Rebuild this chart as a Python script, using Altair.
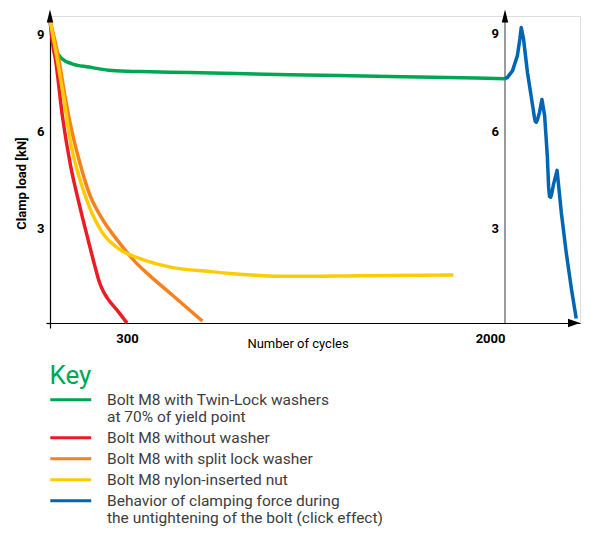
import altair as alt
import pandas as pd

# ---------------- data ----------------
SERIES = [
    "Bolt M8 with Twin-Lock washers\nat 70% of yield point",
    "Bolt M8 without washer",
    "Bolt M8 with split lock washer",
    "Bolt M8 nylon-inserted nut",
    "Behavior of clamping force during\nthe untightening of the bolt (click effect)",
]
COLORS = ["#00A651", "#ED1C24", "#F5821F", "#FFCB05", "#0066B3"]

green_x = [0, 9, 21, 48, 86, 151, 242, 361, 581, 1030, 1479, 2000]
green_y = [9.35, 8.87, 8.46, 8.15, 8.0, 7.9, 7.79, 7.76, 7.73, 7.66, 7.61, 7.54]

red_x = [0, 11, 21, 48, 80, 112, 151, 173, 193, 208, 224, 259, 300]
red_y = [9.35, 8.57, 8.15, 6.4, 4.86, 3.73, 2.49, 1.81, 1.25, 0.97, 0.76, 0.42, 0.0]

orange_x = [0, 34, 60, 86, 112, 151, 203, 269, 338, 401, 506, 639]
orange_y = [9.35, 8.15, 6.92, 5.89, 5.07, 4.04, 3.22, 2.49, 1.88, 1.47, 0.85, 0.06]

yellow_x = [0, 28, 54, 80, 112, 151, 203, 268, 353, 506, 671, 762, 1050, 1352, 1768]
yellow_y = [9.35, 8.15, 6.92, 5.58, 4.55, 3.63, 2.8, 2.29, 2.0, 1.71, 1.59, 1.53, 1.44, 1.46, 1.48]

blue_x = [2000, 2011, 2034, 2056, 2067, 2073, 2083, 2101, 2124, 2132, 2136, 2141, 2146,
          2155, 2166, 2178, 2190, 2196, 2200, 2205, 2209, 2218, 2234, 2241, 2253, 2275,
          2298, 2320]
blue_y = [7.54, 7.58, 7.79, 8.26, 8.78, 9.12, 8.78, 7.73, 6.71, 6.35, 6.22, 6.2, 6.28,
          6.5, 6.9, 6.4, 5.17, 4.2, 3.91, 3.88, 3.96, 4.28, 4.71, 4.24, 3.41, 2.18,
          1.07, 0.14]

X_DOMAIN = [0, 300, 2000, 2337]
X_RANGE = [0, 77, 455, 530]
Y_MAX = 9.475
X_TICKS = [0, 300, 2000]
Y_TICKS = [0, 3, 6, 9]
SECOND_AXIS_LABELS = [3, 6, 9]

# ---------------- frames ----------------
rows = []
for name, xs, ys in [(SERIES[0], green_x, green_y), (SERIES[1], red_x, red_y),
                     (SERIES[2], orange_x, orange_y), (SERIES[3], yellow_x, yellow_y)]:
    for i, (a, b) in enumerate(zip(xs, ys)):
        rows.append({"series": name, "x": a, "y": b, "i": i})
smooth_df = pd.DataFrame(rows)
blue_df = pd.DataFrame({"series": SERIES[4], "x": blue_x, "y": blue_y, "i": range(len(blue_x))})

rule_df = pd.DataFrame({"x": [X_TICKS[2]], "y": [0], "y2": [Y_MAX]})
up_df = pd.DataFrame({"x": [0, X_TICKS[2]], "y": [Y_MAX, Y_MAX]})
right_df = pd.DataFrame({"x": [X_DOMAIN[-1]], "y": [0]})
lab_df = pd.DataFrame({"x": [X_TICKS[2]] * 3, "y": SECOND_AXIS_LABELS,
                       "t": [str(v) for v in SECOND_AXIS_LABELS]})

FONT = "Roboto"
tick_cond = {"condition": {"test": "datum.value == 0", "value": "black"}, "value": "transparent"}

x_axis = alt.Axis(
    values=X_TICKS, format="d", labelExpr="datum.value == 0 ? '' : datum.label",
    labelFont=FONT, labelFontWeight="bold", labelFontSize=13, labelColor="black",
    labelBaseline="alphabetic", labelPadding=14, labelFlush=False, labelOverlap=False,
    labelAlign={"condition": {"test": "datum.value == 2000", "value": "right"}, "value": "center"},
    tickSize=5, tickWidth=1.2, tickColor=tick_cond,
    domainColor="black", domainWidth=1.2, grid=False,
    title="Number of cycles", titleFont=FONT, titleFontSize=13, titleFontWeight="normal",
    titleColor="black", titleX=247.5, titleY=24, titleBaseline="alphabetic",
)
y_axis = alt.Axis(
    values=Y_TICKS, labelExpr="datum.value == 0 ? '' : datum.label",
    labelFont=FONT, labelFontWeight="bold", labelFontSize=13, labelColor="black",
    labelPadding=2, labelOffset=3,
    tickSize=4, tickWidth=1.2, tickColor=tick_cond,
    domainColor="black", domainWidth=1.2, grid=False,
    title="Clamp load [kN]", titleFont=FONT, titleFontSize=13, titleFontWeight="bold",
    titleColor="black", titleX=-28.5, titleY=167, titleAngle=270, titleAlign="center",
    titleBaseline="middle",
)

xs = alt.Scale(domain=X_DOMAIN, range=X_RANGE, nice=False, zero=False)
ys = alt.Scale(domain=[0, Y_MAX], nice=False)
X = alt.X("x:Q", scale=xs, axis=x_axis)
Y = alt.Y("y:Q", scale=ys, axis=y_axis)

legend = alt.Legend(
    orient="none", legendX=-0.5, legendY=347, direction="vertical", padding=0,
    title="Key", titleColor="#00A651", titleFont=FONT, titleFontSize=26,
    titleFontWeight="normal", titlePadding=3,
    labelFont=FONT, labelFontSize=15.5, labelColor="#3d3d3d",
    labelExpr="split(datum.label, '\\n')", labelLimit=0, labelOffset=42,
    symbolType="M-1.7,0H8.3", symbolSize=67, symbolStrokeWidth=3, rowPadding=4,
)
color = alt.Color("series:N", scale=alt.Scale(domain=SERIES, range=COLORS), legend=legend)

rule = alt.Chart(rule_df).mark_rule(color="#666666", strokeWidth=1.3).encode(
    x=X, y=Y, y2="y2:Q")
smooth = alt.Chart(smooth_df).mark_line(strokeWidth=3.5, interpolate="monotone").encode(
    x=X, y=Y, color=color, detail="series:N", order="i:Q")
blue = alt.Chart(blue_df).mark_line(strokeWidth=3.5, interpolate="linear",
                                    strokeJoin="round").encode(
    x=X, y=Y, color=color, order="i:Q")
up = alt.Chart(up_df).mark_point(shape="M0,-1L0.5,1L-0.5,1Z", size=169, filled=True,
                                 color="black", opacity=1).encode(x=X, y=Y)
right = alt.Chart(right_df).mark_point(shape="M0,0L-2,-0.7L-2,0.7Z", size=144, filled=True,
                                       color="black", opacity=1).encode(x=X, y=Y)
labels = alt.Chart(lab_df).mark_text(align="right", baseline="middle", dx=-6, dy=3,
                                     font=FONT, fontWeight="bold", fontSize=13,
                                     color="black").encode(x=X, y=Y, text="t:N")

chart = alt.layer(rule, smooth, blue, up, right, labels).properties(
    width=530, height=307,
    autosize=alt.AutoSizeParams(type="none"),
    padding={"left": 42, "top": 8, "right": 2, "bottom": 207},
).configure_view(stroke=None).configure(font=FONT)

chart.save("out.html", embed_options={"renderer": "svg", "actions": False})
